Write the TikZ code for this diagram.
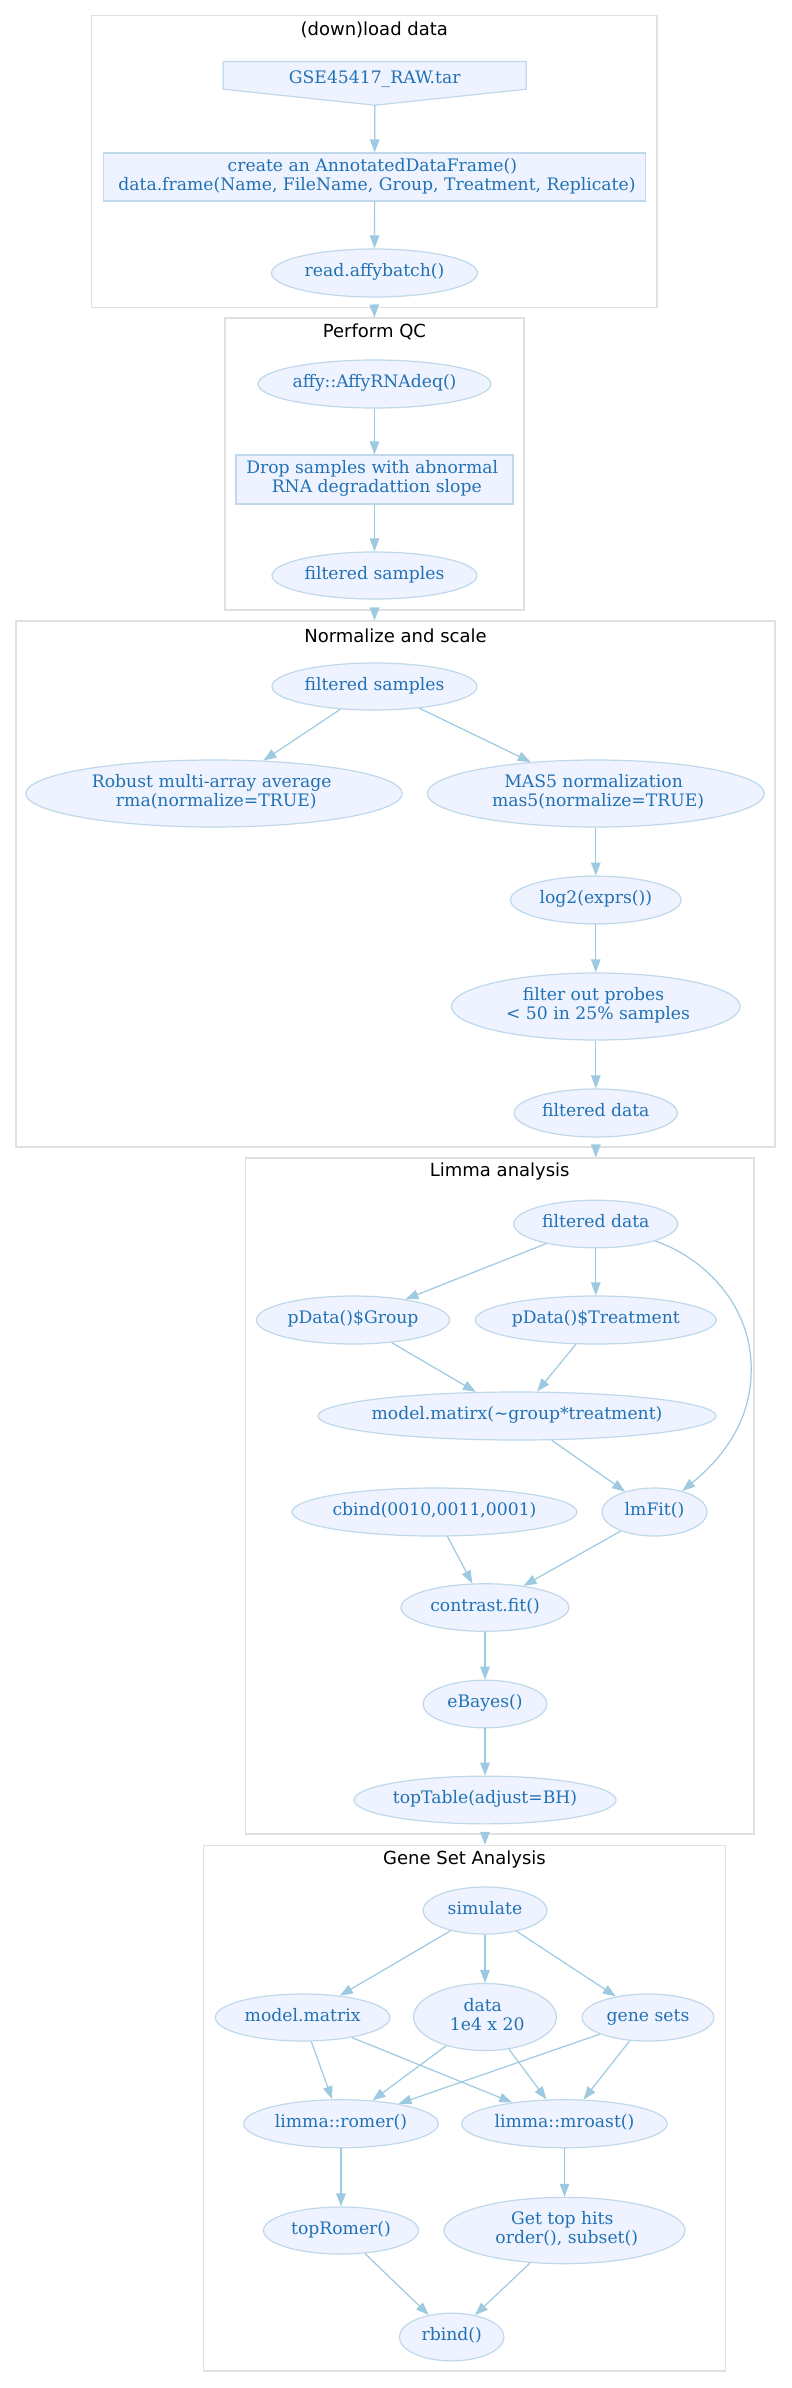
\documentclass[tikz,border=0pt]{standalone}
\usepackage{fontspec}
\setmainfont{DejaVu Serif}
\newfontfamily\titlefont{DejaVu Sans}
\usetikzlibrary{arrows.meta,calc,shapes.geometric}
\definecolor{nodefill}{HTML}{EFF3FF}
\definecolor{nodeline}{HTML}{BFD8EA}
\definecolor{edgecol}{HTML}{9ECAE1}
\definecolor{txtcol}{HTML}{2171B5}
\definecolor{clustline}{HTML}{E0E0E0}
\newcommand\ztxt[1]{\makebox[0pt]{\begin{tabular}{@{}c@{}}#1\end{tabular}}}
\newcommand\twol[2]{#1\hspace*{4.5pt}\\\hspace*{4.5pt}#2}
\begin{document}
\begin{tikzpicture}[x=1pt,y=-1pt,
  ell/.style={ellipse, draw=nodeline, fill=nodefill, line width=1.2pt, inner sep=0pt,
    text=txtcol, font=\fontsize{17.2pt}{19pt}\selectfont},
  box/.style={rectangle, draw=nodeline, fill=nodefill, line width=1.2pt, inner sep=0pt,
    text=txtcol, font=\fontsize{17.2pt}{19pt}\selectfont},
  txt/.style={inner sep=0pt, text=txtcol, font=\fontsize{17.2pt}{19pt}\selectfont},
  clus/.style={rectangle, draw=clustline, line width=1.1pt, inner sep=0pt},
  ttl/.style={inner sep=0pt, text=black, font=\titlefont\fontsize{18pt}{21pt}\selectfont},
  conn/.style={draw=edgecol, line width=1.2pt, -{Triangle[length=13pt,width=9.5pt]}},
  sz/.style 2 args={minimum width=#1pt, minimum height=#2pt}
]
\useasboundingbox (0,0) rectangle (792,2388);
\fill[white] (0,0) rectangle (792,2388);

% clusters
\node[clus, sz={565.5}{291.7}] (c1) at (374.25,161.2) {};
\node[clus, sz={299}{292}] (c2) at (374.5,464) {};
\node[clus, sz={759}{526}] (c3) at (395.5,884) {};
\node[clus, sz={508.5}{676}] (c4) at (499.75,1496) {};
\node[clus, sz={522.3}{525.6}] (c5) at (464.45,2108.2) {};
\node[ttl] (t1) at ([yshift=-14.7pt]c1.north) {(down)load data};
\node[ttl] (t2) at ([yshift=-14pt]c2.north) {Perform QC};
\node[ttl] (t3) at ([yshift=-15pt]c3.north) {Normalize and scale};
\node[ttl] (t4) at ([yshift=-14.5pt]c4.north) {Limma analysis};
\node[ttl] (t5) at ([yshift=-14.6pt]c5.north) {Gene Set Analysis};

% cluster 1
\node[inner sep=0pt, sz={302.5}{36.6}] (gse) at (374.75,80) {};
\draw[draw=nodeline, fill=nodefill, line width=1.2pt]
  (gse.north west) -- (gse.north east) -- ([yshift=9.3pt]gse.south east)
  -- ([yshift=-6.7pt]gse.south) -- ([yshift=9.3pt]gse.south west) -- cycle;
\coordinate (gsetip) at ([yshift=-6.7pt]gse.south);
\node[txt] (gsetxt) at (gse.center) {\ztxt{GSE45417\_RAW.tar}};
\node[box, sz={541.9}{48}] (adf) at (374.65,177) {\ztxt{\twol{create an AnnotatedDataFrame()}{data.frame(Name, FileName, Group, Treatment, Replicate)}}};
\node[ell, sz={206}{48}] (rab) at (374.5,273) {\ztxt{read.affybatch()}};

% cluster 2
\node[ell, sz={233}{48}] (affy) at (374.5,384) {\ztxt{affy::AffyRNAdeq()}};
\node[box, sz={277}{49}] (drop) at (374.5,479.5) {\ztxt{\twol{Drop samples with abnormal}{RNA degradattion slope}}};
\node[ell, sz={205}{47}] (fs1) at (374.5,575.5) {\ztxt{filtered samples}};

% cluster 3
\node[ell, sz={205}{47}] (fs2) at (374.5,686.5) {\ztxt{filtered samples}};
\node[ell, sz={376.5}{67}] (rma) at (214,793.5) {\ztxt{\twol{Robust multi-array average}{rma(normalize=TRUE)}}};
\node[ell, sz={337}{67}] (mas5) at (595.8,793.5) {\ztxt{\twol{MAS5 normalization}{mas5(normalize=TRUE)}}};
\node[ell, sz={170.5}{47.6}] (log2) at (595.8,900) {\ztxt{log2(exprs())}};
\node[ell, sz={288.5}{67}] (fop) at (595.8,1006.5) {\ztxt{\twol{filter out probes}{< 50 in 25\% samples}}};
\node[ell, sz={163}{48}] (fd1) at (595.8,1113) {\ztxt{filtered data}};

% cluster 4
\node[ell, sz={164}{47.6}] (fd2) at (595.8,1224) {\ztxt{filtered data}};
\node[ell, sz={193}{48}] (pgr) at (353,1320) {\ztxt{pData()\$Group}};
\node[ell, sz={241}{48}] (ptr) at (595.8,1320) {\ztxt{pData()\$Treatment}};
\node[ell, sz={398}{48}] (mm) at (517,1416) {\ztxt{model.matirx(\textasciitilde group*treatment)}};
\node[ell, sz={285}{48}] (cbind) at (434.5,1512) {\ztxt{cbind(0010,0011,0001)}};
\node[ell, sz={105}{48}] (lmfit) at (654.5,1512) {\ztxt{lmFit()}};
\node[ell, sz={168}{47.5}] (cfit) at (485,1607.5) {\ztxt{contrast.fit()}};
\node[ell, sz={124}{47.6}] (eb) at (485,1704) {\ztxt{eBayes()}};
\node[ell, sz={262}{47.7}] (tt) at (485,1800) {\ztxt{topTable(adjust=BH)}};

% cluster 5
\node[ell, sz={124}{47}] (sim) at (485,1910.5) {\ztxt{simulate}};
\node[ell, sz={174.6}{47}] (mmx) at (302.6,2017.5) {\ztxt{model.matrix}};
\node[ell, sz={142.8}{67}] (data) at (485,2017) {\ztxt{\twol{data}{1e4 x 20}}};
\node[ell, sz={131.7}{47}] (gs) at (648,2017.5) {\ztxt{gene sets}};
\node[ell, sz={194.6}{48}] (romer) at (341,2123.7) {\ztxt{limma::romer()}};
\node[ell, sz={205.5}{48}] (mroast) at (564.5,2123.7) {\ztxt{limma::mroast()}};
\node[ell, sz={155}{47}] (toprom) at (341,2230.5) {\ztxt{topRomer()}};
\node[ell, sz={241}{66.3}] (gth) at (564.5,2230.5) {\ztxt{\twol{Get top hits}{order(), subset()}}};
\node[ell, sz={104.6}{47.7}] (rbind) at (451.7,2337) {\ztxt{rbind()}};

% edges
\draw[conn] (gsetip) -- (adf);
\draw[conn] (adf) -- (rab);
\draw[conn] (c1.south) -- (c2.north);
\draw[conn] (affy) -- (drop);
\draw[conn] (drop) -- (fs1);
\draw[conn] (c2.south) -- (c2.south |- c3.north);
\draw[conn] (fs2) -- (rma);
\draw[conn] (fs2) -- (mas5);
\draw[conn] (mas5) -- (log2);
\draw[conn] (log2) -- (fop);
\draw[conn] (fop) -- (fd1);
\draw[conn] (fd1 |- c3.south) -- (fd1 |- c4.north);
\draw[conn] (fd2) -- (pgr);
\draw[conn] (fd2) -- (ptr);
\draw[conn] (fd2.-16) .. controls (700,1256) and (748,1300) .. (751,1362)
  .. controls (754,1420) and (722,1458) .. (lmfit.37);
\draw[conn] (pgr) -- (mm);
\draw[conn] (ptr) -- (mm);
\draw[conn] (mm) -- (lmfit);
\draw[conn] (cbind) -- (cfit);
\draw[conn] (lmfit) -- (cfit);
\draw[conn] (cfit) -- (eb);
\draw[conn] (eb) -- (tt);
\draw[conn] (tt |- c4.south) -- (tt |- c5.north);
\draw[conn] (sim) -- (mmx);
\draw[conn] (sim) -- (data);
\draw[conn] (sim) -- (gs);
\draw[conn] (mmx) -- (romer);
\draw[conn] (mmx) -- (mroast);
\draw[conn] (data) -- (romer);
\draw[conn] (data) -- (mroast);
\draw[conn] (gs) -- (romer);
\draw[conn] (gs) -- (mroast);
\draw[conn] (romer) -- (toprom);
\draw[conn] (mroast) -- (gth);
\draw[conn] (toprom) -- (rbind);
\draw[conn] (gth) -- (rbind);
\end{tikzpicture}
\end{document}
